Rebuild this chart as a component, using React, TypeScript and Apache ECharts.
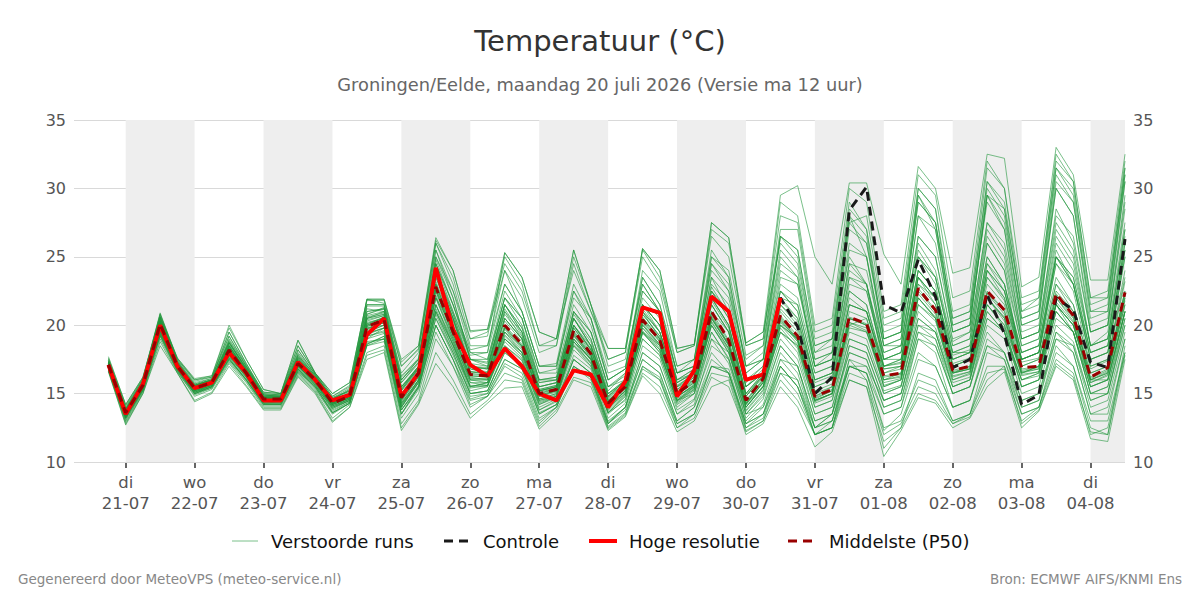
import React, { useEffect, useRef } from "react";
import * as echarts from "echarts";

// Time steps: 6-hourly, starting 20-07 18:00 (hours relative to 21-07 00:00)
const FIRST_HOUR = -6;
const STEP_HOURS = 6;

// Day ticks (midnight) with Dutch weekday abbreviations and dates
const dayNames = ["di", "wo", "do", "vr", "za", "zo", "ma", "di", "wo", "do", "vr", "za", "zo", "ma", "di"];
const dayDates = ["21-07", "22-07", "23-07", "24-07", "25-07", "26-07", "27-07", "28-07", "29-07", "30-07", "31-07", "01-08", "02-08", "03-08", "04-08"];

// Hoge resolutie (HRES), runs until 30-07 12:00
const hres = [
  17.1, 13.5, 15.7, 20.0, 17.0, 15.4, 15.8, 18.0, 16.5, 14.5, 14.5, 17.3, 16.0, 14.5, 14.9, 19.3, 20.5,
  14.8, 16.5, 24.2, 19.7, 17.1, 16.3, 18.3, 17.0, 15.0, 14.5, 16.7, 16.4, 14.0, 15.9, 21.3, 20.9,
  14.8, 16.7, 22.1, 21.0, 16.0, 16.4, 22.0,
];

// Controle run
const control = [
  17.1, 13.5, 15.7, 20.0, 17.0, 15.4, 15.8, 18.0, 16.5, 14.5, 14.5, 17.3, 16.0, 14.5, 14.9, 19.3, 20.5,
  14.8, 16.5, 24.2, 19.7, 17.1, 16.3, 18.3, 17.0, 15.0, 14.5, 16.7, 16.4, 14.0, 15.9, 21.3, 20.9,
  14.8, 16.7, 22.1, 21.0, 16.0, 16.4, 22.0, 19.9, 15.0, 16.2, 28.4, 30.1, 21.5, 20.9, 24.8, 22.1,
  16.9, 17.5, 22.2, 19.4, 14.2, 14.9, 22.0, 21.1, 17.3, 16.9, 26.3,
];

// Middelste (P50)
const p50 = [
  17.1, 13.6, 15.6, 20.1, 17.0, 15.4, 15.8, 18.2, 16.5, 14.6, 14.6, 17.2, 16.0, 14.3, 14.8, 19.9, 20.4,
  14.7, 16.5, 22.8, 19.5, 16.4, 16.3, 20.0, 18.6, 15.0, 15.3, 19.6, 17.9, 14.3, 15.5, 20.4, 18.9,
  15.0, 15.9, 21.0, 18.9, 14.5, 16.1, 20.7, 19.2, 14.8, 15.3, 20.6, 20.1, 16.3, 16.5, 22.7, 21.1,
  16.7, 17.0, 22.5, 21.1, 16.9, 17.0, 22.3, 20.7, 16.2, 16.9, 22.4,
];

// Verstoorde runs (perturbed members)
const m01 = [17.0, 13.4,15.5,20.3,17.1, 15.3,15.9,18.5,16.6, 14.5,14.4,17.0,15.8, 14.0,14.6,20.5,21.0, 15.3,17.0,24.5,21.0, 17.5,17.0,21.5,19.8, 16.0,16.2,21.0,19.0, 15.2,16.5,22.0,20.5, 16.0,16.8,23.5,21.0, 15.8,17.0,23.0,22.0, 17.0,17.5,24.0,23.0, 18.0,18.5,26.0,24.0, 18.5,19.0,27.0,25.0, 19.0,19.5,28.5,26.0, 19.5,20.0,29.0];
const m02 = [17.2, 13.8,15.8,19.6,16.8, 15.1,15.6,17.8,16.2, 14.3,14.4,16.8,15.6, 13.9,14.5,19.0,19.8, 14.2,15.8,21.0,18.6, 15.8,15.6,18.5,17.4, 14.2,14.8,18.5,17.0, 13.6,14.5,19.0,17.8, 14.0,15.0,19.5,17.6, 13.5,14.8,18.5,17.0, 13.0,13.5,18.0,17.5, 14.0,14.5,19.5,18.5, 15.0,15.5,20.5,19.5, 15.5,16.0,21.5,19.5, 15.0,15.5,20.5];
const m03 = [17.4, 13.9,16.0,20.8,17.4, 15.8,16.1,19.5,17.2, 15.0,14.9,18.2,16.4, 14.6,15.2,21.5,21.5, 16.5,18.0,26.0,23.0, 18.5,18.5,24.0,21.0, 17.0,17.0,22.5,20.0, 16.0,16.8,23.5,21.5, 16.5,17.0,25.0,23.5, 17.0,17.5,26.5,25.0, 18.0,18.5,28.0,26.5, 19.0,19.5,29.5,27.0, 20.0,20.5,30.0,28.0, 20.5,21.0,31.0,29.0, 21.0,21.0,30.5];
const m04 = [16.8, 13.2,15.3,19.4,16.9, 15.0,15.5,17.6,16.0, 14.2,14.2,16.6,15.5, 13.6,14.3,18.6,19.2, 13.8,15.5,20.5,18.0, 15.0,15.2,18.0,17.0, 13.8,14.5,17.5,16.5, 13.0,14.0,18.0,17.0, 13.5,14.5,18.0,16.5, 12.8,14.0,17.5,16.0, 12.5,13.5,17.0,16.5, 13.5,14.0,18.0,17.0, 14.0,14.5,19.0,18.0, 14.5,15.0,19.5,18.0, 13.5,13.5,19.0];
const m05 = [17.1, 13.6,15.7,20.0,17.2, 15.5,15.8,18.0,16.5, 14.7,14.7,17.5,16.2, 14.5,15.0,20.5,20.8, 15.0,16.8,23.0,19.5, 16.0,16.0,19.5,18.5, 15.5,15.8,20.5,18.5, 15.0,15.8,21.5,19.5, 15.5,16.0,21.0,19.5, 14.0,15.5,20.0,19.0, 15.0,15.5,21.5,21.0, 16.5,16.8,23.5,21.5, 17.0,17.5,23.0,21.5, 17.0,17.5,22.5,21.0, 16.5,17.0,22.5];
const m06 = [17.3, 13.7,15.9,20.5,17.0, 15.6,16.0,18.8,16.8, 14.8,14.8,17.6,16.1, 14.4,14.9,20.0,20.6, 14.8,16.5,22.0,19.8, 16.8,16.5,21.0,19.0, 15.2,15.5,19.0,17.5, 14.0,15.0,19.5,18.5, 14.8,15.5,20.0,18.0, 14.2,15.5,19.5,18.5, 14.5,15.0,20.0,20.5, 16.5,17.0,23.5,22.0, 17.5,18.0,24.5,22.5, 18.0,18.5,25.5,23.0, 18.0,18.5,26.0];
const m07 = [16.9, 13.3,15.4,19.8,16.8, 15.2,15.7,17.9,16.4, 14.4,14.5,17.0,15.9, 14.2,14.7,19.5,20.0, 14.0,16.0,21.5,18.5, 15.5,15.8,19.5,18.0, 14.5,14.8,18.8,17.5, 14.0,15.2,20.0,18.5, 15.0,16.0,22.0,20.0, 15.0,16.5,22.5,21.0, 16.0,16.5,23.0,22.5, 17.5,17.5,25.0,23.5, 18.0,18.5,26.0,24.0, 17.0,17.5,23.0,21.0, 16.0,16.0,21.0];
const m08 = [17.5, 14.0,16.1,20.9,17.5, 16.0,16.2,19.2,17.0, 15.1,15.0,18.5,16.5, 14.8,15.5,21.8,21.8, 17.0,18.3,25.5,22.5, 19.0,19.2,25.0,23.0, 18.5,18.5,25.0,21.5, 17.5,18.0,25.5,23.5, 18.0,18.5,27.0,26.0, 18.5,19.0,29.0,28.0, 20.0,20.5,30.0,29.0, 21.0,21.5,31.0,29.5, 22.0,22.5,32.0,30.0, 21.0,22.0,32.5,30.5, 22.0,22.5,32.0];
const m09 = [16.7, 12.9,15.1,19.0,16.6, 14.8,15.3,17.3,15.8, 14.0,14.0,16.4,15.2, 13.2,14.2,18.0,18.5, 12.8,14.5,19.0,17.0, 14.0,14.8,17.0,16.2, 13.0,14.0,17.0,16.2, 12.8,13.8,17.0,16.0, 12.5,13.5,17.0,16.5, 12.5,13.2,17.0,15.5, 12.0,12.5,17.5,16.0, 11.0,12.5,16.5,16.0, 13.0,13.5,18.0,17.5, 13.5,14.0,18.5,17.0, 12.5,12.0,18.5];
const m10 = [17.2, 13.7,15.6,20.2,17.3, 15.4,15.9,18.4,16.7, 14.6,14.6,17.3,16.0, 14.3,14.8,20.2,20.5, 15.5,16.8,23.8,20.5, 16.5,16.3,20.5,19.0, 15.0,15.4,19.5,17.8, 14.5,15.5,20.5,19.0, 15.0,15.8,21.5,19.5, 14.5,16.0,21.0,19.5, 14.8,15.5,20.5,20.0, 15.5,16.0,22.0,20.5, 16.0,16.5,21.5,20.0, 16.5,17.0,21.5,20.0, 15.5,16.0,21.0];
const m11 = [16.9, 13.5,15.5,19.9,17.0, 15.3,15.7,18.1,16.5, 14.6,14.6,17.1,16.0, 14.3,14.9,19.7,20.2, 14.6,16.4,22.5,19.2, 16.2,16.0,19.8,18.4, 14.8,15.2,19.3,17.6, 14.1,15.2,20.0,18.6, 14.8,15.6,20.5,18.6, 14.3,15.8,20.2,18.8, 14.5,15.0,20.0,19.5, 16.0,16.2,22.0,20.5, 16.5,16.8,22.0,20.5, 16.5,16.8,21.5,20.0, 16.0,16.5,21.5];
const m12 = [17.0, 13.5,15.6,20.1,17.0, 15.4,15.8,18.2,16.5, 14.6,14.6,17.2,16.0, 14.3,14.8,19.9,20.4, 14.7,16.5,22.8,19.5, 16.4,16.3,20.0,18.6, 15.0,15.3,19.6,17.9, 14.3,15.5,20.4,18.9, 15.0,15.9,21.0,18.9, 14.5,16.1,20.7,19.2, 14.8,15.3,20.6,20.1, 16.3,16.5,22.7,21.1, 16.7,17.0,22.5,21.1, 16.8,17.0,22.3,20.7, 16.2,16.8,22.4];
const m13 = [17.6, 14.2,16.2,20.6,17.6, 16.1,16.3,19.8,17.5, 15.3,15.0,18.9,16.5, 15.0,15.8,21.9,21.9, 17.5,18.5,26.4,24.0, 19.6,19.7,24.5,22.5, 18.5,19.0,24.0,21.0, 18.3,18.3,25.6,24.0, 18.3,18.6,27.5,26.4, 18.7,19.5,26.0,24.5, 18.0,19.0,25.0,23.0, 17.0,17.5,23.0,21.5, 16.5,17.0,24.0,22.5, 17.5,18.0,25.0,23.0, 17.5,18.0,25.5];
const m14 = [16.6, 12.7,15.0,18.5,16.5, 14.4,15.0,17.0,15.5, 13.8,13.8,16.2,15.0, 12.9,14.0,17.5,18.0, 12.3,14.2,17.2,15.5, 13.2,14.3,15.4,15.5, 12.4,13.6,16.0,15.5, 12.3,13.3,16.3,15.0, 12.2,13.0,15.5,16.0, 12.0,12.8,15.5,14.0, 11.1,12.2,16.0,15.5, 10.4,12.3,14.7,14.3, 12.5,13.2,15.5,16.6, 12.5,13.7,17.0,16.0, 11.7,11.5,17.5];
const m15 = [17.3, 13.8,15.9,20.4,17.2, 15.6,16.0,18.7,16.9, 14.9,14.8,17.8,16.3, 14.7,15.2,21.0,21.2, 16.0,17.5,24.5,21.5, 18.0,17.5,22.0,20.5, 16.5,16.5,21.5,19.5, 15.5,16.0,21.0,19.0, 14.5,15.0,19.0,18.0, 13.5,14.0,17.0,15.5, 12.5,13.0,17.0,17.0, 14.5,15.0,20.0,19.0, 15.0,15.5,19.5,18.0, 14.0,14.5,19.0,18.5, 14.0,14.5,19.5];
const m16 = [17.0, 13.4,15.5,20.0,17.0, 15.4,15.8,18.3,16.6, 14.6,14.7,17.4,16.1, 14.2,14.7,19.8,20.0, 14.5,16.2,22.0,18.8, 15.5,15.8,19.0,18.0, 15.2,15.5,20.5,18.5, 14.8,15.8,21.5,20.0, 15.8,16.5,22.5,20.5, 15.5,16.5,22.0,21.5, 16.5,17.0,24.5,24.0, 18.5,18.5,26.5,25.0, 19.0,19.5,27.5,26.0, 19.5,20.0,28.0,26.5, 19.5,20.0,28.5];
const m17 = [16.8, 13.3,15.4,19.7,16.9, 15.2,15.6,17.8,16.3, 14.5,14.5,17.0,15.8, 14.1,14.6,19.4,19.8, 14.3,16.0,21.5,18.8, 16.0,16.0,19.5,18.2, 14.6,15.0,19.0,17.5, 13.8,15.0,19.5,18.0, 14.5,15.5,20.0,18.0, 14.0,15.5,19.5,18.5, 14.0,14.5,19.0,18.5, 15.0,15.5,20.5,19.5, 15.5,16.0,21.0,19.5, 15.5,16.0,20.5,19.5, 15.0,15.5,21.0];
const m18 = [17.4, 13.9,15.9,20.6,17.3, 15.7,16.0,19.0,17.0, 14.9,14.8,18.0,16.4, 14.6,15.3,21.5,21.5, 16.3,17.5,25.5,22.0, 17.5,17.5,22.5,20.5, 16.0,16.0,21.0,19.5, 15.5,16.3,22.5,21.0, 16.5,17.0,24.5,22.5, 16.5,17.5,25.0,23.5, 17.0,18.0,26.0,25.0, 18.5,19.0,28.0,26.0, 19.5,20.0,29.5,27.5, 20.5,21.0,30.0,28.0, 20.0,20.5,30.5];
const m19 = [17.1, 13.6,15.6,20.1,17.1, 15.5,15.9,18.3,16.6, 14.7,14.7,17.3,16.0, 14.4,14.9,20.0,20.3, 14.8,16.6,23.2,20.0, 16.6,16.4,20.3,18.8, 15.1,15.4,19.8,18.0, 14.4,15.6,20.6,19.0, 15.2,16.0,21.5,19.5, 14.8,16.2,21.5,20.0, 15.5,16.0,22.0,21.0, 16.8,17.0,23.5,22.0, 17.5,18.0,24.0,22.0, 17.5,18.0,23.5,21.5, 17.0,17.5,23.5];
const m20 = [16.9, 13.4,15.4,19.5,16.8, 15.2,15.7,17.7,16.2, 14.4,14.4,16.9,15.7, 14.0,14.5,19.2,19.5, 14.0,15.8,21.0,18.2, 15.5,15.5,19.0,17.8, 14.4,14.8,18.8,17.2, 13.6,14.8,19.5,18.0, 14.5,15.3,20.5,18.5, 14.0,15.5,20.0,19.0, 14.5,15.0,21.0,20.5, 16.0,16.5,23.0,22.0, 17.0,17.5,23.5,22.0, 17.5,18.0,24.5,23.0, 17.5,18.0,25.0];
const m21 = [17.2, 13.7,15.8,20.3,17.2, 15.5,15.9,18.6,16.8, 14.8,14.8,17.6,16.2, 14.5,15.0,20.8,21.2, 15.8,17.2,24.0,21.0, 17.8,18.0,25.3,23.5, 19.5,19.0,25.5,21.5, 17.0,17.5,23.0,21.0, 16.0,16.5,22.5,20.5, 15.5,16.5,22.5,21.0, 16.0,16.5,22.5,21.5, 17.0,17.5,24.0,22.5, 18.0,18.0,25.0,23.0, 17.5,18.0,24.5,22.5, 17.0,17.5,24.0];
const m22 = [16.8, 13.2,15.3,19.2,16.7, 15.0,15.5,17.5,16.0, 14.3,14.3,16.8,15.6, 13.8,14.4,18.8,19.0, 13.5,15.5,20.0,17.5, 14.8,15.0,17.5,16.8, 13.5,14.2,17.0,16.2, 12.8,14.0,17.5,16.5, 13.0,14.0,17.5,16.5, 12.5,13.5,17.0,15.5, 12.0,13.0,17.5,17.0, 13.5,14.0,19.0,18.0, 14.0,14.5,18.5,17.5, 14.0,14.5,19.5,18.5, 14.5,15.0,20.0];
const m23 = [17.1, 13.6,15.7,20.2,17.1, 15.4,15.8,18.2,16.5, 14.7,14.6,17.3,16.0, 14.3,14.8,20.1,20.6, 15.2,16.8,23.5,20.5, 17.0,16.8,21.5,19.5, 15.5,15.8,20.5,18.5, 14.8,16.0,21.5,20.0, 16.0,16.8,24.5,23.0, 17.0,17.5,25.5,24.0, 17.5,18.0,27.0,26.0, 19.0,19.5,29.0,27.5, 19.5,20.0,29.5,27.0, 20.0,20.5,30.0,28.0, 19.5,20.0,29.5];
const m24 = [17.0, 13.5,15.5,19.9,16.9, 15.3,15.7,18.0,16.4, 14.5,14.5,17.0,15.9, 14.2,14.7,19.6,20.2, 14.4,16.2,22.2,19.0, 16.0,15.8,19.2,18.0, 14.6,15.0,19.0,17.5, 14.0,15.2,19.8,18.5, 14.6,15.5,20.5,18.5, 14.2,15.8,20.3,19.0, 14.5,15.0,20.5,20.0, 15.5,16.0,21.5,20.5, 16.5,16.8,22.0,20.5, 16.5,17.0,22.0,20.5, 16.5,17.0,22.5];
const m25 = [17.3, 13.8,15.8,20.5,17.3, 15.6,16.0,18.9,17.0, 14.9,14.9,17.9,16.3, 14.6,15.3,21.2,21.0, 16.0,17.3,25.0,22.0, 17.5,17.2,22.0,20.5, 16.5,16.8,22.5,20.5, 16.0,16.8,23.0,21.0, 16.5,17.5,24.0,22.5, 17.5,18.5,27.0,27.0, 19.0,19.5,28.0,25.0, 17.5,18.0,25.0,23.0, 17.0,17.5,24.0,22.5, 17.5,18.0,25.0,23.5, 18.0,18.5,26.0];
const m26 = [16.7, 13.0,15.2,19.2,16.6, 14.9,15.4,17.4,15.9, 14.1,14.1,16.5,15.3, 13.5,14.3,18.5,18.8, 13.2,15.0,19.5,17.0, 14.5,14.8,17.2,16.5, 13.2,14.0,17.0,16.0, 12.6,13.6,16.8,16.0, 12.8,13.5,16.5,16.2, 12.3,13.0,16.0,14.5, 12.0,12.5,16.0,15.5, 11.5,12.5,15.0,14.5, 12.8,13.5,16.5,16.8, 13.0,14.0,17.5,16.5, 12.0,12.5,18.0];
const m27 = [17.2, 13.7,15.7,20.3,17.1, 15.5,15.9,18.5,16.7, 14.7,14.7,17.5,16.1, 14.5,15.0,20.6,20.9, 15.5,17.0,24.0,20.8, 17.0,16.8,21.0,19.5, 15.8,16.0,20.0,18.5, 15.0,16.0,21.0,19.5, 15.5,16.5,22.5,21.0, 15.5,16.5,23.5,23.0, 17.5,18.0,27.5,28.0, 20.5,21.0,30.0,28.5, 20.0,20.5,29.0,27.0, 19.0,19.5,27.5,25.5, 18.5,19.0,27.0];
const m28 = [17.0, 13.5,15.6,20.0,17.0, 15.4,15.8,18.2,16.5, 14.6,14.6,17.1,16.0, 14.3,14.8,19.9,20.3, 14.6,16.4,22.6,19.4, 16.3,16.2,19.8,18.5, 14.9,15.2,19.3,17.8, 14.2,15.4,20.2,18.8, 14.8,15.6,20.6,18.6, 14.3,15.8,20.4,18.8, 14.6,15.2,20.2,19.8, 16.0,16.3,22.3,20.8, 16.5,16.8,22.3,20.8, 16.6,16.8,22.0,20.3, 16.0,16.6,22.0];
const m29 = [16.9, 13.3,15.4,19.6,16.8, 15.1,15.6,17.8,16.3, 14.4,14.4,16.9,15.7, 14.0,14.5,19.2,19.6, 14.0,15.8,21.0,18.3, 15.2,15.5,18.5,17.5, 14.0,14.6,18.2,17.0, 13.5,14.6,19.0,17.8, 14.2,15.0,19.5,17.5, 13.5,15.0,19.0,17.5, 13.5,14.0,19.0,18.5, 15.0,15.5,20.5,19.5, 15.8,16.2,21.0,19.5, 16.0,16.5,21.0,19.5, 15.5,16.0,21.0];
const m30 = [17.5, 14.1,16.1,20.7,17.5, 15.9,16.2,19.5,17.2, 15.1,15.0,18.5,16.5, 14.8,15.6,21.9,21.6, 17.0,18.2,26.0,23.5, 19.0,19.5,24.0,22.0, 18.0,18.5,24.5,21.0, 17.5,18.0,25.0,23.0, 18.0,18.5,26.5,25.0, 18.5,19.0,28.0,27.5, 19.5,20.0,29.0,27.0, 20.0,20.5,29.5,27.5, 20.5,21.0,30.5,28.5, 21.5,22.0,31.5,29.5, 21.0,21.5,31.5];
const m31 = [16.8, 13.2,15.3,19.4,16.8, 15.1,15.5,17.6,16.1, 14.3,14.3,16.7,15.5, 13.7,14.4,18.6,19.2, 13.5,15.5,20.5,17.8, 15.0,15.2,18.0,17.0, 13.6,14.2,17.5,16.5, 12.9,14.0,18.0,17.0, 13.5,14.2,18.5,17.5, 13.0,14.2,18.0,16.5, 12.5,13.5,18.5,18.0, 14.5,15.0,20.0,19.5, 15.5,16.0,21.5,20.0, 15.5,16.0,21.0,19.5, 15.0,15.0,20.5];
const m32 = [17.1, 13.6,15.7,20.1,17.1, 15.4,15.8,18.4,16.6, 14.7,14.6,17.4,16.1, 14.4,14.9,20.3,20.7, 15.2,16.9,23.5,20.3, 16.8,16.6,20.8,19.2, 15.3,15.6,20.0,18.2, 14.6,15.8,21.0,19.5, 15.5,16.3,22.0,20.0, 15.0,16.3,21.8,20.5, 15.8,16.3,22.5,21.5, 17.0,17.3,24.0,22.5, 17.8,18.2,25.0,23.0, 18.0,18.5,25.0,23.0, 17.5,18.0,25.0];
const m33 = [17.0, 13.5,15.5,19.8,16.9, 15.3,15.7,18.0,16.4, 14.5,14.5,17.1,15.9, 14.2,14.7,19.5,20.0, 14.3,16.0,22.0,19.0, 15.8,15.8,19.3,18.0, 14.5,14.9,18.8,17.5, 13.9,15.1,19.8,18.3, 14.5,15.4,20.3,18.3, 14.0,15.6,20.0,18.6, 14.3,14.8,19.8,19.5, 15.6,16.0,21.5,20.3, 16.2,16.6,22.0,20.3, 16.3,16.6,21.5,20.0, 15.8,16.3,21.5];
const m34 = [17.3, 13.8,15.8,20.4,17.2, 15.6,16.0,18.7,16.8, 14.8,14.8,17.7,16.2, 14.5,15.1,20.7,21.0, 15.5,17.0,23.8,20.8, 17.2,17.0,21.5,19.8, 15.8,16.0,20.8,19.0, 15.0,16.0,21.5,20.0, 15.8,16.5,22.8,20.8, 15.5,16.8,22.5,21.5, 16.5,17.0,23.5,22.5, 17.5,18.0,25.0,23.5, 18.5,19.0,26.5,24.5, 18.5,19.0,26.0,24.0, 18.5,19.0,26.5];
const m35 = [16.7, 13.1,15.2,19.3,16.7, 15.0,15.4,17.5,16.0, 14.2,14.2,16.6,15.4, 13.6,14.3,18.5,19.0, 13.8,15.4,20.0,17.5, 14.2,14.8,16.5,16.0, 12.8,14.0,16.8,16.2, 12.5,13.5,17.0,16.2, 12.8,13.5,17.0,16.8, 12.8,13.5,17.5,17.0, 12.5,13.0,17.0,16.5, 12.5,13.0,16.0,15.5, 13.0,13.5,17.0,17.0, 13.5,14.0,18.0,17.0, 13.0,13.0,18.0];
const m36 = [17.2, 13.7,15.7,20.2,17.2, 15.5,15.9,18.5,16.7, 14.7,14.7,17.4,16.1, 14.4,14.9,20.4,20.7, 15.3,16.9,23.8,20.5, 16.9,16.8,21.2,19.3, 15.3,15.6,20.0,18.3, 14.7,15.8,21.2,19.5, 15.6,16.4,22.0,20.0, 15.0,16.5,22.0,20.5, 16.0,16.5,23.5,23.0, 18.0,18.5,26.5,25.0, 18.8,19.5,27.5,25.5, 19.0,19.5,27.0,25.0, 18.5,19.5,27.5];
const m37 = [16.9, 13.4,15.5,19.7,16.9, 15.2,15.6,17.9,16.3, 14.5,14.5,17.0,15.8, 14.1,14.6,19.4,19.8, 14.2,16.0,21.5,18.6, 15.6,15.6,19.0,17.8, 14.3,14.8,18.6,17.3, 13.7,14.9,19.6,18.2, 14.4,15.3,20.2,18.3, 13.8,15.3,19.8,18.3, 14.0,14.5,19.5,19.0, 15.2,15.6,21.0,19.8, 16.0,16.4,21.5,19.8, 16.0,16.3,21.0,19.5, 15.5,16.0,21.0];
const m38 = [17.4, 13.9,16.0,20.6,17.4, 15.7,16.1,19.2,17.1, 15.0,14.9,18.2,16.4, 14.7,15.4,21.4,21.4, 16.2,17.6,25.0,22.5, 18.2,18.5,23.0,21.0, 17.0,17.0,22.0,20.5, 16.5,17.0,23.5,21.5, 17.0,17.5,25.0,24.0, 17.8,18.5,26.5,25.5, 18.5,19.0,27.5,26.0, 19.5,20.0,29.0,27.5, 20.5,21.0,30.5,29.0, 21.0,21.5,31.5,30.0, 21.5,22.0,31.5];
const m39 = [16.9, 13.3,15.5,19.8,16.9, 15.2,15.6,17.9,16.4, 14.5,14.5,17.0,15.8, 14.1,14.6,19.3,19.8, 14.1,15.9,21.2,18.5, 15.4,15.6,18.8,17.6, 14.2,14.7,18.5,17.2, 13.6,14.8,19.4,18.2, 14.3,15.2,20.0,18.2, 13.7,15.2,19.5,18.0, 13.5,14.0,18.0,17.5, 14.0,14.5,19.0,18.5, 15.0,15.5,20.0,19.0, 15.0,15.5,20.0,18.8, 14.5,15.0,20.0];
const m40 = [17.1, 13.6,15.6,20.0,17.1, 15.4,15.8,18.2,16.5, 14.6,14.6,17.2,16.0, 14.3,14.8,19.8,20.2, 14.8,16.6,23.0,19.8, 16.6,16.5,20.5,19.0, 15.2,15.5,20.0,18.2, 14.5,15.6,20.8,19.2, 15.3,16.2,21.8,19.8, 14.8,16.4,21.5,20.3, 15.5,16.0,21.5,21.0, 17.0,17.2,24.0,22.5, 17.5,18.0,24.5,23.0, 18.0,18.5,25.0,23.5, 18.0,18.5,25.5];
const m41 = [17.0, 13.5,15.6,20.1,17.0, 15.4,15.8,18.3,16.6, 14.6,14.6,17.2,16.0, 14.3,14.8,20.0,20.4, 14.7,16.4,22.7,19.4, 16.3,16.2,19.9,18.5, 14.9,15.2,19.4,17.8, 14.2,15.4,20.3,18.8, 14.9,15.8,20.8,18.8, 14.4,16.0,20.6,19.0, 14.7,15.2,20.5,20.0, 16.2,16.4,22.5,21.0, 16.6,16.9,22.4,21.0, 16.7,16.9,22.2,20.6, 16.1,16.7,22.2];
const m42 = [17.3, 13.8,15.8,20.3,17.2, 15.6,15.9,18.7,16.8, 14.8,14.8,17.7,16.2, 14.5,15.0,20.8,21.3, 15.8,17.3,24.8,21.5, 17.5,17.3,22.0,20.0, 16.0,16.2,21.0,19.5, 15.5,16.5,22.5,21.0, 16.5,17.0,23.5,22.0, 16.5,17.5,24.5,23.5, 17.0,17.5,25.5,25.0, 18.5,19.0,28.0,27.0, 19.5,20.0,29.5,28.5, 20.0,20.5,30.5,29.0, 20.5,21.0,31.0];
const m43 = [16.8, 13.3,15.3,19.5,16.8, 15.1,15.5,17.7,16.2, 14.3,14.3,16.8,15.6, 13.9,14.5,19.0,19.4, 13.8,15.6,20.8,18.0, 15.0,15.2,18.2,17.2, 13.8,14.4,17.8,16.8, 13.2,14.3,18.5,17.5, 13.8,14.6,19.0,17.2, 13.2,14.6,18.5,17.0, 13.0,13.5,18.5,18.0, 14.5,15.0,19.5,19.0, 15.5,16.0,20.5,19.5, 16.0,16.5,21.5,20.0, 16.0,16.5,22.0];
const m44 = [17.2, 13.7,15.7,20.2,17.2, 15.5,15.9,18.5,16.7, 14.7,14.7,17.5,16.1, 14.4,15.0,20.5,20.8, 15.4,17.0,23.8,20.5, 17.0,16.9,21.5,19.5, 15.5,15.8,20.5,18.8, 14.8,16.0,21.5,20.0, 15.8,16.6,23.0,21.5, 16.0,17.0,24.0,23.0, 17.0,17.5,24.5,23.0, 17.5,18.0,25.5,23.5, 18.0,18.5,26.0,24.0, 18.5,19.0,26.5,24.5, 18.5,19.0,27.0];
const m45 = [16.6, 12.8,15.0,18.8,16.5, 14.5,15.1,17.2,15.6, 13.9,13.9,16.3,15.1, 13.0,14.0,17.8,18.2, 12.5,14.3,18.0,16.0, 13.5,14.5,16.0,15.8, 12.6,13.8,16.2,15.8, 12.4,13.4,16.5,15.5, 12.5,13.2,16.2,15.5, 12.2,13.0,16.5,15.0, 12.0,12.5,16.5,16.0, 12.0,12.8,15.5,15.0, 12.8,13.3,16.0,17.0, 12.8,13.8,17.2,16.2, 12.2,12.0,17.8];
const m46 = [17.1, 13.6,15.6,20.1,17.1, 15.4,15.8,18.3,16.6, 14.7,14.6,17.3,16.0, 14.4,14.9,20.1,20.5, 14.9,16.6,23.0,19.8, 16.6,16.5,20.5,19.0, 15.2,15.5,19.8,18.2, 14.5,15.7,20.8,19.2, 15.3,16.2,21.5,19.5, 14.8,16.3,21.2,19.8, 15.2,15.7,21.5,21.0, 16.8,17.0,23.5,22.0, 17.2,17.6,23.5,21.8, 17.3,17.6,23.0,21.5, 16.8,17.4,23.2];
const m47 = [17.0, 13.5,15.5,19.9,16.9, 15.3,15.7,18.1,16.4, 14.5,14.5,17.1,15.9, 14.2,14.7,19.7,20.2, 14.5,16.3,22.5,19.2, 16.1,16.1,19.7,18.3, 14.8,15.1,19.2,17.7, 14.1,15.3,20.1,18.6, 14.7,15.7,20.7,18.6, 14.2,15.9,20.5,18.9, 14.4,15.0,20.2,19.6, 15.8,16.1,22.0,20.6, 16.3,16.6,22.0,20.6, 16.4,16.6,21.7,20.2, 15.8,16.4,21.8];
const m48 = [17.7, 14.2,16.2,20.8,17.6, 16.0,16.3,20.0,17.5, 15.3,15.0,18.9,16.5, 15.0,15.8,21.9,21.9, 17.3,18.5,26.2,24.0, 19.5,19.7,25.3,23.5, 19.5,19.0,25.5,21.5, 18.3,18.3,25.6,24.0, 18.3,18.6,27.5,26.4, 18.7,19.5,29.5,30.2, 25.0,23.0,30.4,30.4, 25.2,23.0,31.6,30.0, 23.8,24.2,32.5,32.2, 22.8,23.5,33.0,31.0, 23.3,23.3,32.5];
const m49 = [16.8, 13.2,15.3,19.3,16.7, 15.0,15.5,17.5,16.0, 14.2,14.2,16.7,15.5, 13.6,14.3,18.7,19.0, 13.5,15.3,20.0,17.5, 14.6,15.0,17.5,16.8, 13.5,14.2,17.5,16.5, 12.8,14.0,17.5,16.5, 13.0,14.0,17.0,16.5, 12.8,13.5,16.5,16.0, 12.0,12.5,17.0,16.5, 12.3,13.5,17.5,17.0, 14.0,14.5,18.5,18.0, 14.5,15.0,19.0,18.0, 13.5,14.0,19.0];
const m50 = [17.3, 13.8,15.9,20.5,17.3, 15.6,16.0,18.8,16.9, 14.9,14.8,17.8,16.3, 14.6,15.2,21.0,21.2, 16.0,17.5,24.5,21.5, 18.0,18.0,23.0,21.0, 17.0,17.2,23.0,20.5, 16.0,16.8,24.0,22.5, 17.0,17.5,25.5,23.5, 17.0,18.0,26.5,25.5, 18.5,19.0,28.5,27.0, 19.0,19.5,30.0,28.5, 21.0,21.5,31.5,30.0, 22.0,22.5,32.0,30.5, 22.0,22.0,31.0];

const members = [
  m01, m02, m03, m04, m05, m06, m07, m08, m09, m10, m11, m12, m13, m14, m15, m16, m17, m18, m19, m20,
  m21, m22, m23, m24, m25, m26, m27, m28, m29, m30, m31, m32, m33, m34, m35, m36, m37, m38, m39, m40,
  m41, m42, m43, m44, m45, m46, m47, m48, m49, m50,
];

// Legend entries, in display order
const legendNames = ["Verstoorde runs", "Controle", "Hoge resolutie", "Middelste (P50)"];

const FONT = "DejaVu Sans";
const X_MIN = -18;
const X_MAX = 348;
const ENS_COLOR = "rgb(34,150,60)";
const CTRL_COLOR = "#1a1a1a";
const HRES_COLOR = "#ff0000";
const P50_COLOR = "#990000";
const DASH = [9, 6];

const toPoints = (vals: number[]) => vals.map((v, i) => [FIRST_HOUR + i * STEP_HOURS, v]);

export default function App() {
  const ref = useRef<HTMLDivElement>(null);

  useEffect(() => {
    if (!ref.current) return;
    const chart = echarts.init(ref.current, undefined, { renderer: "svg" });

    const dayTicks = dayDates.map((_, i) => i * 24);

    // Alternate days shaded (di, do, za, ma, ...)
    const bands: any[] = [];
    for (let i = 0; i < dayTicks.length; i += 2) {
      bands.push([{ xAxis: dayTicks[i] }, { xAxis: Math.min(dayTicks[i] + 24, X_MAX) }]);
    }

    const memberSeries = members.map((m) => ({
      name: legendNames[0],
      type: "line",
      data: toPoints(m),
      symbol: "none",
      silent: true,
      z: 2,
      lineStyle: { color: ENS_COLOR, width: 1, opacity: 0.6 },
    }));

    // Legend row drawn as line samples + labels
    const legendY = 541;
    const legendItems = [
      { x: 232, w: 26, textX: 271, stroke: ENS_COLOR, opacity: 0.6, width: 1, dash: null },
      { x: 444, w: 26, textX: 483, stroke: CTRL_COLOR, opacity: 1, width: 3, dash: DASH },
      { x: 589, w: 28, textX: 629, stroke: HRES_COLOR, opacity: 1, width: 4, dash: null },
      { x: 788, w: 26, textX: 829, stroke: P50_COLOR, opacity: 1, width: 3, dash: DASH },
    ];
    const legendGraphics: any[] = [];
    legendItems.forEach((it, i) => {
      legendGraphics.push({
        type: "line",
        silent: true,
        shape: { x1: it.x, y1: legendY, x2: it.x + it.w, y2: legendY },
        style: { stroke: it.stroke, lineWidth: it.width, opacity: it.opacity, lineDash: it.dash || undefined },
      });
      legendGraphics.push({
        type: "text",
        silent: true,
        x: it.textX,
        y: legendY,
        style: {
          text: legendNames[i],
          fill: "#111111",
          font: `18px "${FONT}"`,
          verticalAlign: "middle",
          align: "left",
        },
      });
    });

    const option: any = {
      animation: false,
      backgroundColor: "#ffffff",
      textStyle: { fontFamily: FONT },
      title: [
        {
          text: "Temperatuur (°C)",
          left: "center",
          top: 21,
          textStyle: { fontFamily: FONT, fontSize: 29, fontWeight: "normal", color: "#333333" },
        },
        {
          text: "Groningen/Eelde, maandag 20 juli 2026 (Versie ma 12 uur)",
          left: "center",
          top: 70,
          textStyle: { fontFamily: FONT, fontSize: 17.8, fontWeight: "normal", color: "#666666" },
        },
      ],
      grid: { left: 74, right: 75, top: 120, bottom: 138 },
      xAxis: {
        type: "value",
        min: X_MIN,
        max: X_MAX,
        axisLine: { show: false },
        splitLine: { show: false },
        axisTick: {
          show: true,
          length: 6,
          customValues: dayTicks,
          lineStyle: { color: "#666666", width: 2 },
        },
        axisLabel: {
          customValues: dayTicks,
          margin: 10,
          fontFamily: FONT,
          fontSize: 16.5,
          lineHeight: 21,
          color: "#555555",
          formatter: (v: number) => {
            const i = Math.round(v / 24);
            return dayNames[i] !== undefined ? `${dayNames[i]}\n${dayDates[i]}` : "";
          },
        },
      },
      yAxis: [
        {
          type: "value",
          min: 10,
          max: 35,
          interval: 5,
          z: 1,
          axisLine: { show: false },
          axisTick: { show: false },
          axisLabel: { fontFamily: FONT, fontSize: 16, color: "#555555", margin: 8 },
          splitLine: { lineStyle: { color: "#d9d9d9", width: 1 } },
        },
        {
          type: "value",
          position: "right",
          min: 10,
          max: 35,
          interval: 5,
          axisLine: { show: false },
          axisTick: { show: false },
          axisLabel: { fontFamily: FONT, fontSize: 16, color: "#555555", margin: 8 },
          splitLine: { show: false },
        },
      ],
      series: [
        {
          name: "_bands",
          type: "line",
          data: [[FIRST_HOUR, p50[0]]],
          symbol: "none",
          silent: true,
          z: 0,
          lineStyle: { opacity: 0 },
          markArea: {
            silent: true,
            itemStyle: { color: "#eeeeee" },
            data: bands,
          },
        },
        ...memberSeries,
        {
          name: legendNames[1],
          type: "line",
          data: toPoints(control),
          symbol: "none",
          z: 3,
          lineStyle: { color: CTRL_COLOR, width: 3, type: DASH },
        },
        {
          name: legendNames[2],
          type: "line",
          data: toPoints(hres),
          symbol: "none",
          z: 4,
          lineStyle: { color: HRES_COLOR, width: 4 },
        },
        {
          name: legendNames[3],
          type: "line",
          data: toPoints(p50),
          symbol: "none",
          z: 5,
          lineStyle: { color: P50_COLOR, width: 3, type: DASH },
        },
      ],
      graphic: [
        ...legendGraphics,
        {
          type: "text",
          left: 18,
          top: 572,
          silent: true,
          style: { text: "Gegenereerd door MeteoVPS (meteo-service.nl)", fill: "#888888", font: `13.5px "${FONT}"` },
        },
        {
          type: "text",
          right: 18,
          top: 572,
          silent: true,
          style: { text: "Bron: ECMWF AIFS/KNMI Ens", fill: "#888888", font: `13.5px "${FONT}"` },
        },
      ],
    };

    chart.setOption(option);
    return () => chart.dispose();
  }, []);

  return (
    <div
      ref={ref}
      style={{ position: "fixed", left: 0, top: 0, width: 1200, height: 600, background: "#ffffff" }}
    />
  );
}
